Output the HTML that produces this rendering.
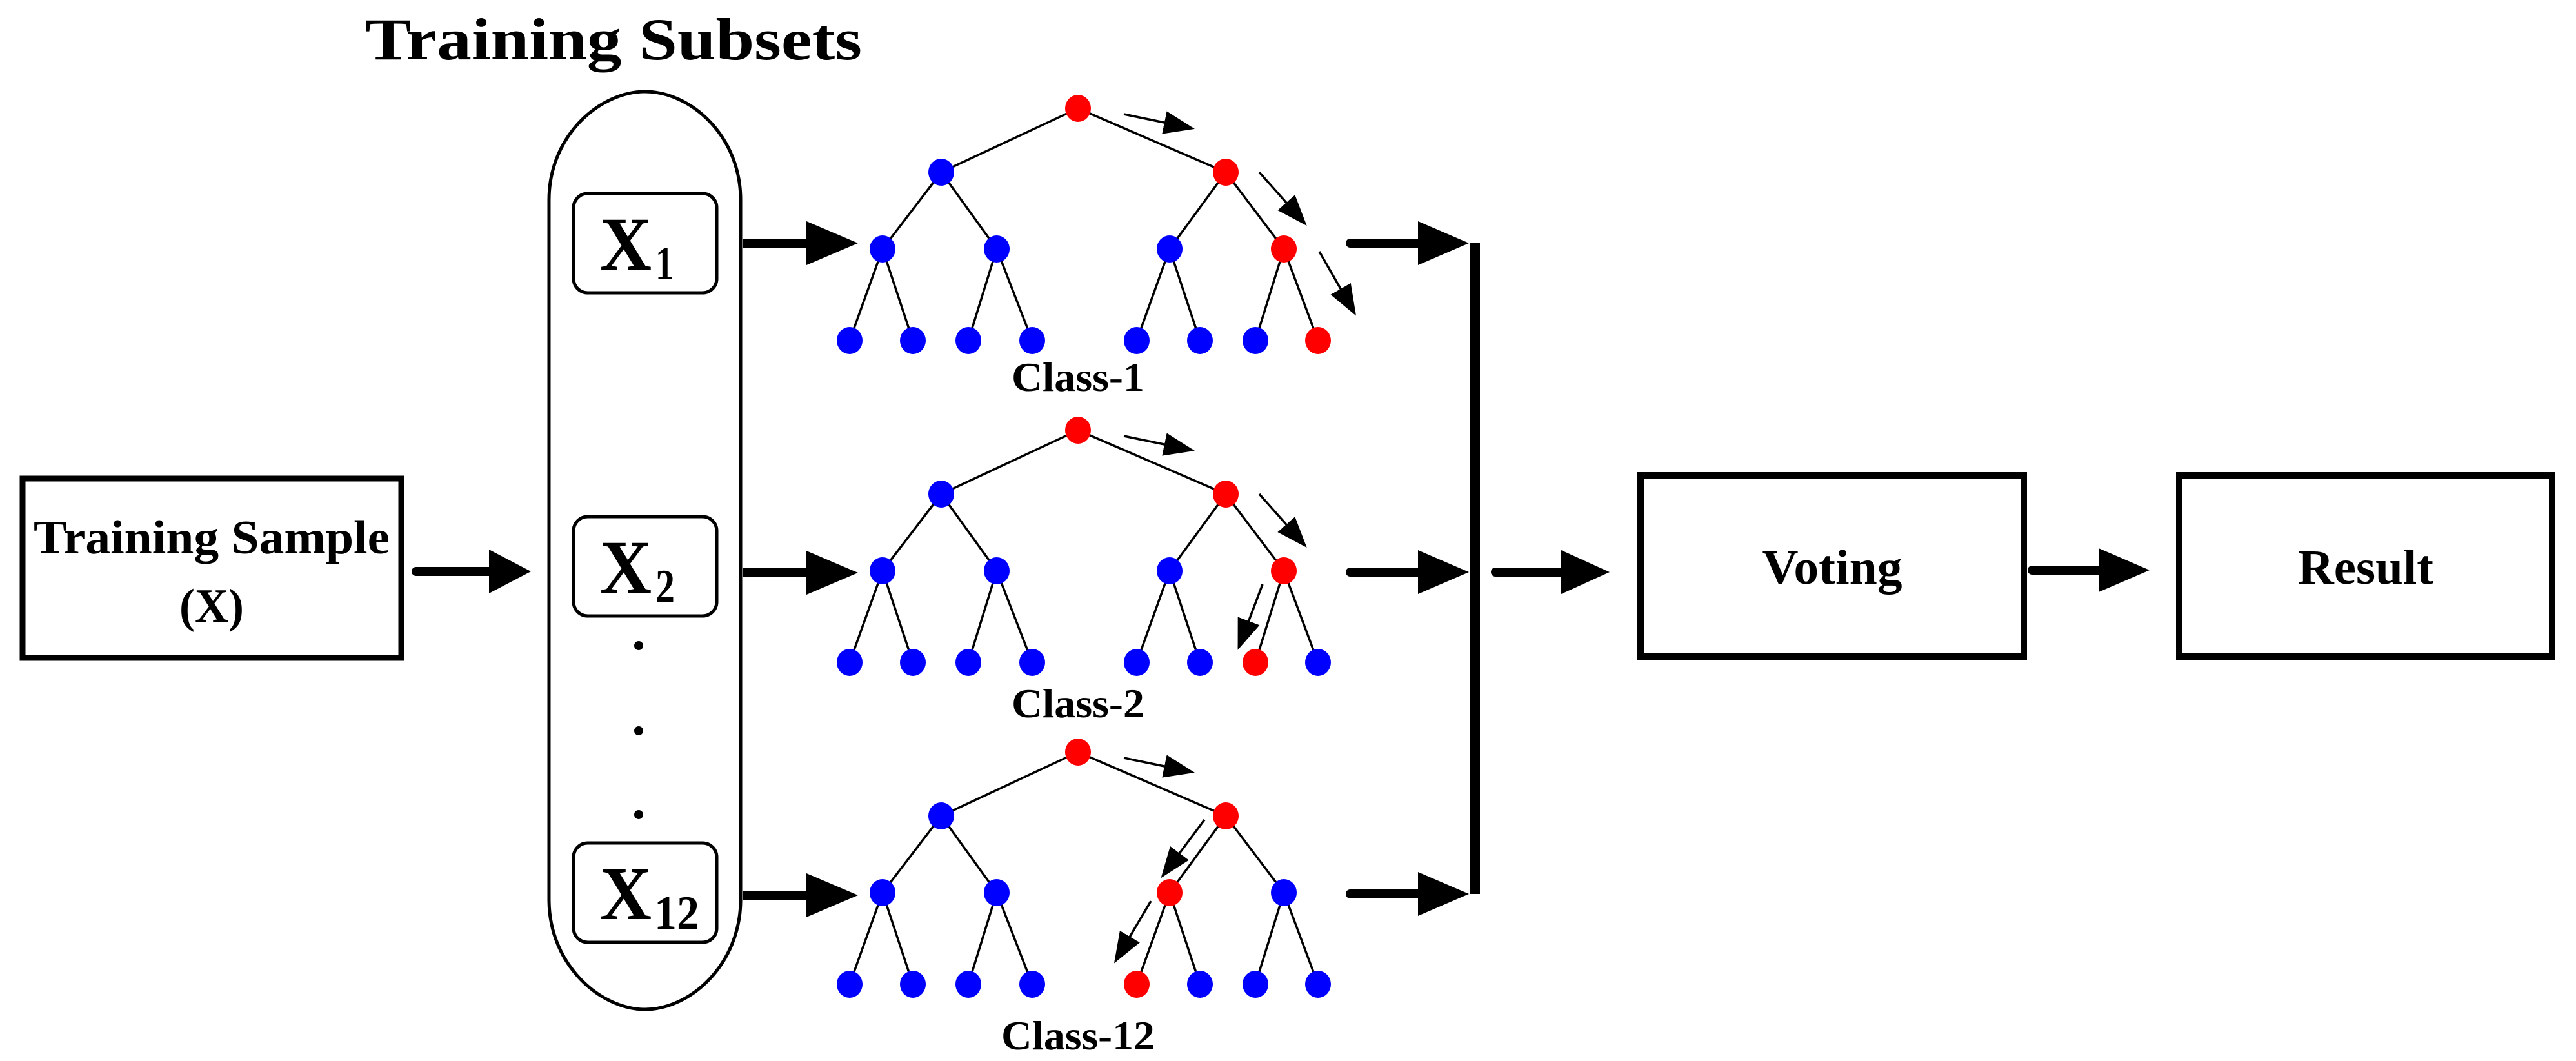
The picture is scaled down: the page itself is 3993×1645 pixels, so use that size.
<!DOCTYPE html>
<html><head><meta charset="utf-8"><style>
html,body{margin:0;padding:0;background:#fff;}
svg{display:block;}
text{font-family:"Liberation Serif","Times New Roman",serif;font-weight:bold;fill:#000;}
</style></head><body>
<svg width="3993" height="1645" viewBox="0 0 3993 1645" xmlns="http://www.w3.org/2000/svg">
<defs>
<marker id="ah" markerUnits="userSpaceOnUse" markerWidth="50" markerHeight="40" refX="44" refY="18" orient="auto" viewBox="0 0 50 40">
<path d="M0,0 L48,18 L0,36 z" fill="#000"/>
</marker>
<g id="tree" stroke="#000" stroke-width="3.5" fill="none">
<line x1="1671" y1="0" x2="1459" y2="99"/>
<line x1="1671" y1="0" x2="1900" y2="99"/>
<line x1="1459" y1="99" x2="1368" y2="218"/>
<line x1="1459" y1="99" x2="1545" y2="218"/>
<line x1="1900" y1="99" x2="1813" y2="218"/>
<line x1="1900" y1="99" x2="1990" y2="218"/>
<line x1="1368" y1="218" x2="1317" y2="360"/>
<line x1="1368" y1="218" x2="1415" y2="360"/>
<line x1="1545" y1="218" x2="1501" y2="360"/>
<line x1="1545" y1="218" x2="1600" y2="360"/>
<line x1="1813" y1="218" x2="1762" y2="360"/>
<line x1="1813" y1="218" x2="1860" y2="360"/>
<line x1="1990" y1="218" x2="1946" y2="360"/>
<line x1="1990" y1="218" x2="2043" y2="360"/>
</g>
</defs>

<text x="951" y="92" font-size="92" text-anchor="middle" textLength="770" lengthAdjust="spacingAndGlyphs">Training Subsets</text>

<rect x="35" y="742" width="587" height="278" fill="none" stroke="#000" stroke-width="9"/>
<text x="328" y="858" font-size="74" text-anchor="middle" textLength="552" lengthAdjust="spacingAndGlyphs">Training Sample</text>
<text x="328" y="964" font-size="74" text-anchor="middle" textLength="100" lengthAdjust="spacingAndGlyphs">(X)</text>

<line x1="645" y1="886" x2="765" y2="886" stroke="#000" stroke-width="14" stroke-linecap="round"/>
<polygon points="758,852 823,886 758,920" fill="#000"/>

<path d="M851,310 C851,210 930,142 1000,142 C1070,142 1148,210 1148,310 L1148,1395 C1148,1495 1070,1565 1000,1565 C930,1565 851,1495 851,1395 Z" fill="none" stroke="#000" stroke-width="5"/>
<rect x="889" y="300" width="222" height="154" rx="22" fill="none" stroke="#000" stroke-width="5"/>
<rect x="889" y="801" width="222" height="154" rx="22" fill="none" stroke="#000" stroke-width="5"/>
<rect x="889" y="1307" width="222" height="154" rx="22" fill="none" stroke="#000" stroke-width="5"/>
<text x="930" y="418" font-size="118" textLength="80" lengthAdjust="spacingAndGlyphs">X</text>
<text x="1016" y="433" font-size="74" textLength="28" lengthAdjust="spacingAndGlyphs">1</text>
<text x="930" y="919" font-size="118" textLength="80" lengthAdjust="spacingAndGlyphs">X</text>
<text x="1016" y="934" font-size="74" textLength="30" lengthAdjust="spacingAndGlyphs">2</text>
<text x="930" y="1425" font-size="118" textLength="80" lengthAdjust="spacingAndGlyphs">X</text>
<text x="1014" y="1440" font-size="74" textLength="70" lengthAdjust="spacingAndGlyphs">12</text>
<circle cx="990" cy="1001" r="7" fill="#000"/>
<circle cx="990" cy="1133" r="7" fill="#000"/>
<circle cx="990" cy="1263" r="7" fill="#000"/>

<g fill="#000">
<line x1="1152" y1="377" x2="1260" y2="377" stroke="#000" stroke-width="14"/>
<polygon points="1250,343 1330,377 1250,411"/>
<line x1="1152" y1="888" x2="1260" y2="888" stroke="#000" stroke-width="14"/>
<polygon points="1250,854 1330,888 1250,922"/>
<line x1="1152" y1="1388" x2="1260" y2="1388" stroke="#000" stroke-width="14"/>
<polygon points="1250,1354 1330,1388 1250,1422"/>
</g>

<use href="#tree" y="168"/>
<use href="#tree" y="667"/>
<use href="#tree" y="1166"/>

<g>
<ellipse cx="1671" cy="168" rx="20" ry="21" fill="#f00"/>
<ellipse cx="1459" cy="267" rx="20" ry="21" fill="#00f"/>
<ellipse cx="1900" cy="267" rx="20" ry="21" fill="#f00"/>
<ellipse cx="1368" cy="386" rx="20" ry="21" fill="#00f"/>
<ellipse cx="1545" cy="386" rx="20" ry="21" fill="#00f"/>
<ellipse cx="1813" cy="386" rx="20" ry="21" fill="#00f"/>
<ellipse cx="1990" cy="386" rx="20" ry="21" fill="#f00"/>
<ellipse cx="1317" cy="528" rx="20" ry="21" fill="#00f"/>
<ellipse cx="1415" cy="528" rx="20" ry="21" fill="#00f"/>
<ellipse cx="1501" cy="528" rx="20" ry="21" fill="#00f"/>
<ellipse cx="1600" cy="528" rx="20" ry="21" fill="#00f"/>
<ellipse cx="1762" cy="528" rx="20" ry="21" fill="#00f"/>
<ellipse cx="1860" cy="528" rx="20" ry="21" fill="#00f"/>
<ellipse cx="1946" cy="528" rx="20" ry="21" fill="#00f"/>
<ellipse cx="2043" cy="528" rx="20" ry="21" fill="#f00"/>
</g>
<g>
<ellipse cx="1671" cy="667" rx="20" ry="21" fill="#f00"/>
<ellipse cx="1459" cy="766" rx="20" ry="21" fill="#00f"/>
<ellipse cx="1900" cy="766" rx="20" ry="21" fill="#f00"/>
<ellipse cx="1368" cy="885" rx="20" ry="21" fill="#00f"/>
<ellipse cx="1545" cy="885" rx="20" ry="21" fill="#00f"/>
<ellipse cx="1813" cy="885" rx="20" ry="21" fill="#00f"/>
<ellipse cx="1990" cy="885" rx="20" ry="21" fill="#f00"/>
<ellipse cx="1317" cy="1027" rx="20" ry="21" fill="#00f"/>
<ellipse cx="1415" cy="1027" rx="20" ry="21" fill="#00f"/>
<ellipse cx="1501" cy="1027" rx="20" ry="21" fill="#00f"/>
<ellipse cx="1600" cy="1027" rx="20" ry="21" fill="#00f"/>
<ellipse cx="1762" cy="1027" rx="20" ry="21" fill="#00f"/>
<ellipse cx="1860" cy="1027" rx="20" ry="21" fill="#00f"/>
<ellipse cx="1946" cy="1027" rx="20" ry="21" fill="#f00"/>
<ellipse cx="2043" cy="1027" rx="20" ry="21" fill="#00f"/>
</g>
<g>
<ellipse cx="1671" cy="1166" rx="20" ry="21" fill="#f00"/>
<ellipse cx="1459" cy="1265" rx="20" ry="21" fill="#00f"/>
<ellipse cx="1900" cy="1265" rx="20" ry="21" fill="#f00"/>
<ellipse cx="1368" cy="1384" rx="20" ry="21" fill="#00f"/>
<ellipse cx="1545" cy="1384" rx="20" ry="21" fill="#00f"/>
<ellipse cx="1813" cy="1384" rx="20" ry="21" fill="#f00"/>
<ellipse cx="1990" cy="1384" rx="20" ry="21" fill="#00f"/>
<ellipse cx="1317" cy="1526" rx="20" ry="21" fill="#00f"/>
<ellipse cx="1415" cy="1526" rx="20" ry="21" fill="#00f"/>
<ellipse cx="1501" cy="1526" rx="20" ry="21" fill="#00f"/>
<ellipse cx="1600" cy="1526" rx="20" ry="21" fill="#00f"/>
<ellipse cx="1762" cy="1526" rx="20" ry="21" fill="#f00"/>
<ellipse cx="1860" cy="1526" rx="20" ry="21" fill="#00f"/>
<ellipse cx="1946" cy="1526" rx="20" ry="21" fill="#00f"/>
<ellipse cx="2043" cy="1526" rx="20" ry="21" fill="#00f"/>
</g>

<g stroke="#000" stroke-width="3.5" marker-end="url(#ah)">
<line x1="1742" y1="177" x2="1848" y2="199"/>
<line x1="1952" y1="267" x2="2023" y2="347"/>
<line x1="2045" y1="390" x2="2100" y2="486"/>
<line x1="1742" y1="676" x2="1848" y2="698"/>
<line x1="1952" y1="766" x2="2023" y2="846"/>
<line x1="1957" y1="906" x2="1920" y2="1004"/>
<line x1="1742" y1="1175" x2="1848" y2="1197"/>
<line x1="1867" y1="1271" x2="1802" y2="1358"/>
<line x1="1784" y1="1397" x2="1729" y2="1490"/>
</g>

<text x="1671" y="606" font-size="64" text-anchor="middle" textLength="206" lengthAdjust="spacingAndGlyphs">Class-1</text>
<text x="1671" y="1112" font-size="64" text-anchor="middle" textLength="206" lengthAdjust="spacingAndGlyphs">Class-2</text>
<text x="1671" y="1627" font-size="64" text-anchor="middle" textLength="238" lengthAdjust="spacingAndGlyphs">Class-12</text>

<g fill="#000">
<line x1="2093" y1="377" x2="2205" y2="377" stroke="#000" stroke-width="14" stroke-linecap="round"/>
<polygon points="2198,343 2277,377 2198,411"/>
<line x1="2093" y1="887" x2="2205" y2="887" stroke="#000" stroke-width="14" stroke-linecap="round"/>
<polygon points="2198,853 2277,887 2198,921"/>
<line x1="2093" y1="1386" x2="2205" y2="1386" stroke="#000" stroke-width="14" stroke-linecap="round"/>
<polygon points="2198,1352 2277,1386 2198,1420"/>
<rect x="2279" y="376" width="15" height="1010"/>
<line x1="2318" y1="887" x2="2430" y2="887" stroke="#000" stroke-width="14" stroke-linecap="round"/>
<polygon points="2420,853 2495,887 2420,921"/>
<line x1="3150" y1="884" x2="3258" y2="884" stroke="#000" stroke-width="14" stroke-linecap="round"/>
<polygon points="3253,850 3332,884 3253,918"/>
</g>

<rect x="2543" y="737" width="594" height="281" fill="none" stroke="#000" stroke-width="10"/>
<text x="2840" y="905" font-size="76" text-anchor="middle" textLength="217" lengthAdjust="spacingAndGlyphs">Voting</text>
<rect x="3378" y="737" width="578" height="281" fill="none" stroke="#000" stroke-width="10"/>
<text x="3667" y="905" font-size="76" text-anchor="middle" textLength="210" lengthAdjust="spacingAndGlyphs">Result</text>
</svg>
</body></html>
